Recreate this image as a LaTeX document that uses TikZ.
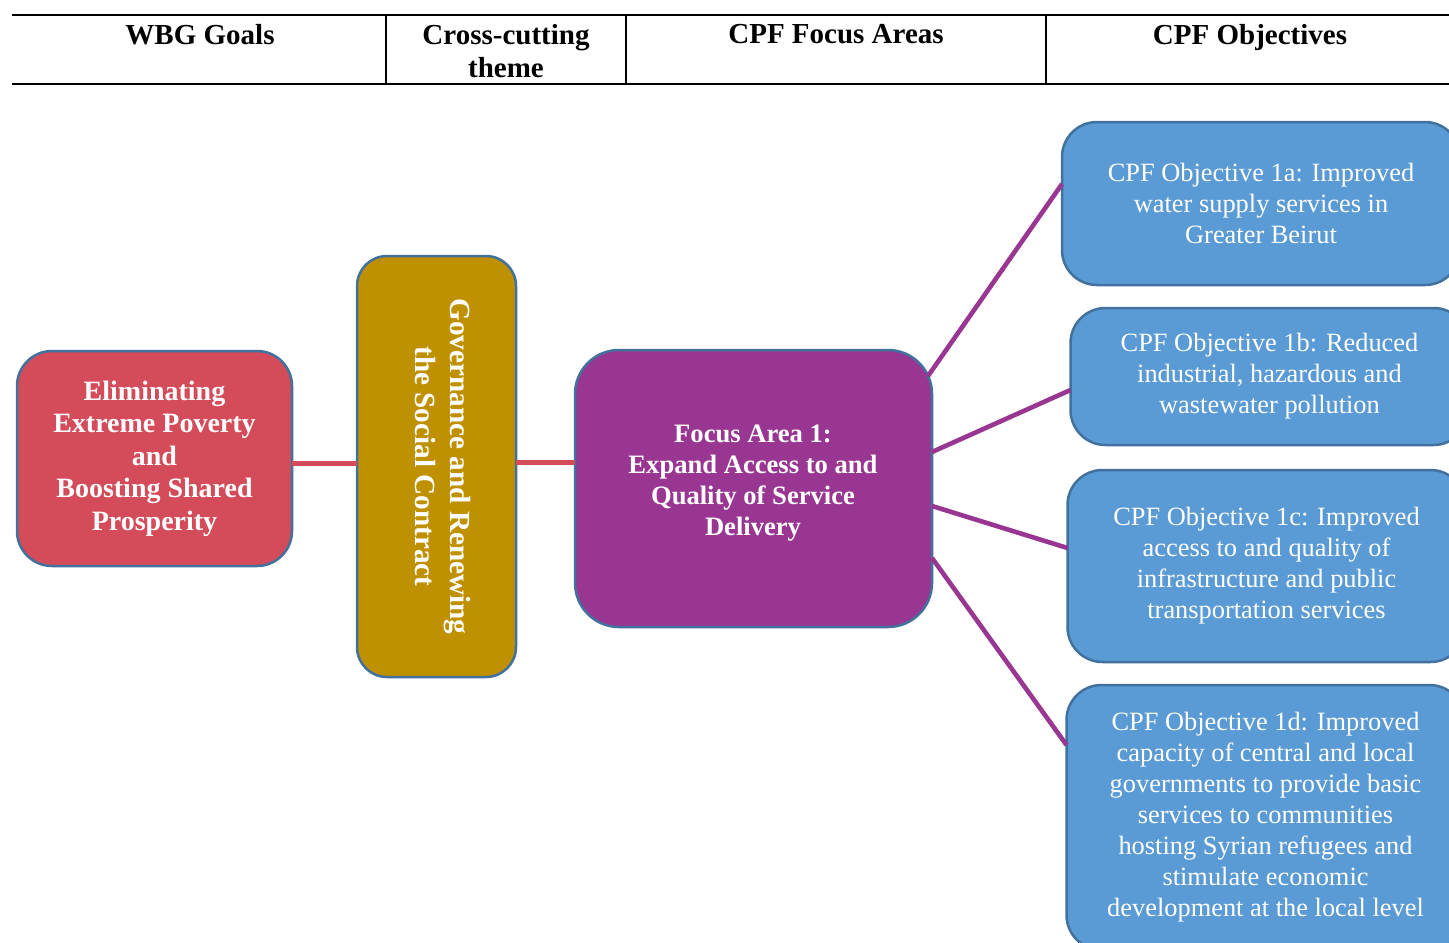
\documentclass[tikz,border=0pt]{standalone}
\usepackage{fontspec}
\setmainfont{Liberation Serif}
\usetikzlibrary{calc}
\definecolor{redc}{RGB}{212,76,90}
\definecolor{goldc}{RGB}{191,144,0}
\definecolor{purc}{RGB}{153,54,145}
\definecolor{bluec}{RGB}{91,155,213}
\definecolor{bordc}{RGB}{65,113,156}
\begin{document}
\begin{tikzpicture}[x=0.5pt,y=-0.5pt,
  box/.style={draw=bordc, line width=1.25pt, inner sep=0pt, outer sep=0pt, text=white, align=center},
  goalbox/.style={box, fill=redc, rounded corners=17.5pt, font=\bfseries\fontsize{14}{16.2}\selectfont},
  themebox/.style={box, fill=goldc, rounded corners=15pt},
  focusbox/.style={box, fill=purc, rounded corners=22pt},
  objbox/.style={box, fill=bluec, rounded corners=17.5pt, font=\fontsize{13.2}{15.5}\selectfont},
  boxtext/.style={inner sep=0pt, align=center, text=white},
  headtext/.style={anchor=north, inner sep=0pt, align=center, font=\bfseries\fontsize{14.5}{16.5}\selectfont},
  redline/.style={draw=redc, line width=2.5pt},
  purline/.style={draw=purc, line width=2.3pt},
  rule/.style={line width=1pt}
]
\useasboundingbox (0,0) rectangle (1449,942);
\clip (0,0) rectangle (1449,942);
\fill[white] (0,0) rectangle (1449,942);

% header table
\draw[rule] (12,15) -- (1449,15);
\draw[rule] (12,84) -- (1449,84);
\draw[line width=0.8pt] (386,15) -- (386,84);
\draw[line width=0.8pt] (626,15) -- (626,84);
\draw[line width=0.8pt] (1046,15) -- (1046,84);
\node[headtext] (h1) at (200,24) {WBG Goals};
\node[headtext] (h2) at (506,24) {Cross-cutting\\theme};
\node[headtext] (h3) at (836,24) {CPF Focus Areas};
\node[headtext] (h4) at (1250,24) {CPF Objectives};

% boxes
\node[goalbox, minimum width=137.5pt, minimum height=107.5pt] (goal) at (154.5,458.5)
  {Eliminating\\Extreme Poverty\\and\\Boosting Shared\\Prosperity};
\node[themebox, minimum width=79.5pt, minimum height=210.5pt] (theme) at (436.5,466.5) {};
\node[boxtext, rotate=-90, font=\bfseries\fontsize{14.6}{17.5}\selectfont] (themet) at (443,466.5)
  {Governance and Renewing\\the Social Contract};
\node[focusbox, minimum width=178.5pt, minimum height=138.5pt] (fa) at (753.5,488.5) {};
\node[boxtext, font=\bfseries\fontsize{13.3}{15.6}\selectfont] (fat) at (753,483)
  {Focus Area 1:\\Expand Access to and\\Quality of Service\\Delivery};

\node[objbox, minimum width=199pt, minimum height=81.5pt] (o1) at (1261,203.5)
  {CPF Objective 1a: Improved\\water supply services in\\Greater Beirut};
\node[objbox, minimum width=199pt, minimum height=68.5pt] (o2) at (1269.5,376.5)
  {CPF Objective 1b: Reduced\\industrial, hazardous and\\wastewater pollution};
\node[objbox, minimum width=199pt, minimum height=96pt] (o3) at (1266.5,566)
  {CPF Objective 1c: Improved\\access to and quality of\\infrastructure and public\\transportation services};
\node[objbox, minimum width=199pt, minimum height=132.5pt] (o4) at (1265.5,817.5)
  {CPF Objective 1d: Improved\\capacity of central and local\\governments to provide basic\\services to communities\\hosting Syrian refugees and\\stimulate economic\\development at the local level};

% connectors
\draw[redline] ($(goal.east)+(0,4.5)$) -- ($(goal.east -| theme.west)+(0,4.5)$);
\draw[redline] ($(theme.east)+(0,-4.5)$) -- ($(theme.east -| fa.west)+(0,-4.5)$);
\draw[purline] ($(fa.east)+(-4,-112.5)$) -- ($(o1.west)+(0,-19.5)$);
\draw[purline] ($(fa.east)+(0,-36.5)$) -- ($(o2.west)+(0,13.5)$);
\draw[purline] ($(fa.east)+(0,17.5)$) -- ($(o3.west)+(0,-18)$);
\draw[purline] ($(fa.east)+(0,69.5)$) -- ($(o4.west)+(0,-72.5)$);
\end{tikzpicture}
\end{document}
